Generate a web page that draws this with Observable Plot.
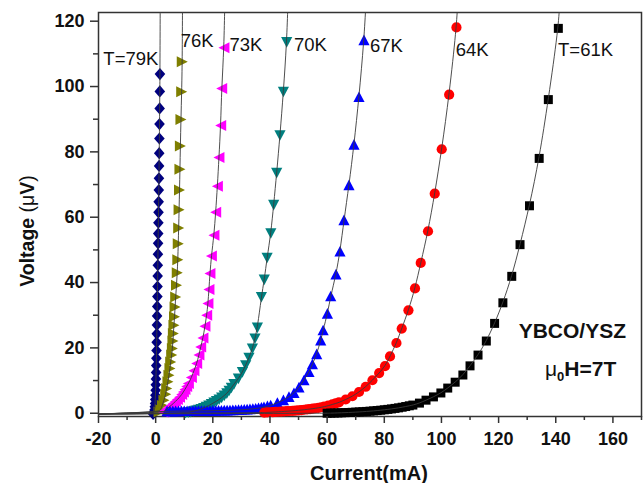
<!DOCTYPE html>
<html><head><meta charset="utf-8">
<script src="https://cdn.jsdelivr.net/npm/d3@7"></script>
<script src="https://cdn.jsdelivr.net/npm/@observablehq/plot@0.6"></script>
<style>body{margin:0;background:#fff}</style>
</head><body><div id="chart"></div>
<script>
// ---- data (Current mA, Voltage µV) ----
const xTicks = [-20,0,20,40,60,80,100,120,140,160];
const xMinorTicks = [-10,10,30,50,70,90,110,130,150,170];
const yTicks = [0,20,40,60,80,100,120];
const yMinorTicks = [10,30,50,70,90,110];

const t79 = [[-0.9,-0.2],[-0.6,0.3],[-0.4,1.0],[-0.3,2],[-0.2,3],[-0.15,4.2],[-0.1,5.5],[0,7],[0.05,8.7],[0.1,10.5],[0.15,12.5],[0.2,14.6],[0.25,16.8],[0.3,19.2],[0.35,21.7],[0.4,24.3],[0.45,27],[0.5,29.8],[0.55,32.7],[0.6,35.7],[0.65,38.8],[0.7,42],[0.75,45.3],[0.8,48.7],[0.85,52],[0.9,55],[0.95,58.3],[1.0,61.5],[1.05,64.7],[1.1,68.3],[1.15,71.9],[1.2,75.7],[1.25,79.6],[1.3,84.1],[1.35,88.5],[1.4,93.3],[1.45,98.5],[1.5,103.8]];
const t76 = [[1.2,0.4],[1.75,1.1],[2.35,2.4],[2.9,4],[3.5,5.8],[3.85,7.6],[4.3,9.6],[4.65,11.6],[5.0,13.7],[5.25,15.7],[5.6,17.8],[5.85,19.8],[6.05,22.1],[6.2,24.4],[6.4,26.9],[6.6,29.5],[6.8,32.5],[7.0,35.6],[7.3,39.2],[7.55,43],[7.75,47],[7.9,51.9],[8.05,56.7],[8.2,62.3],[8.35,68.3],[8.5,74.7],[8.65,81.8],[8.85,89.9],[9.1,98.4],[9.3,107.6]];
const t73 = [[2.6,0.4],[3.0,0.6],[3.5,0.9],[4.1,1.4],[4.65,1.9],[5.4,2.4],[6.2,3.0],[6.9,3.6],[7.6,4.2],[8.35,4.9],[9.1,5.7],[9.7,6.5],[10.25,7.3],[10.85,8.2],[11.45,9.1],[12.5,10.9],[13.4,13],[14.35,15.2],[15.15,17.8],[15.75,20.3],[16.55,23],[17.25,26.6],[17.85,30],[18.3,33.6],[18.65,37.9],[19.0,42.8],[19.5,48.1],[20.4,54.5],[21.0,61.5],[21.6,69.5],[22.15,78.3],[22.75,88.1],[23.1,99.4],[23.9,111.9]];
const t70 = [[10.5,0.1],[11.4,0.25],[12.3,0.4],[13.2,0.6],[14.1,0.8],[15,1.05],[15.9,1.3],[16.8,1.6],[17.7,1.95],[18.6,2.35],[19.5,2.8],[20.4,3.25],[21.3,3.7],[22.2,4.2],[23.1,4.8],[24,5.4],[24.9,6.1],[25.7,6.9],[26.5,7.8],[27.4,8.9],[28.95,10.6],[30.35,12.6],[31.5,14.7],[32.65,17],[33.85,19.8],[34.75,22.9],[35.6,26.2],[37.0,35.6],[38.0,40.9],[39.0,47.6],[40.3,55.1],[41.3,63.8],[42.35,73.6],[43.5,85.1],[44.7,98.4],[45.85,113.6]];
const t67 = [[4,0.6],[5,0.62],[6,0.63],[7,0.64],[8,0.65],[9,0.66],[10,0.67],[11,0.68],[12,0.69],[13,0.7],[14,0.71],[15,0.72],[16,0.73],[17,0.74],[18,0.75],[19,0.76],[20,0.78],[21,0.8],[22,0.82],[23,0.84],[24,0.86],[25,0.88],[26,0.91],[27,0.94],[28,0.98],[29,1.02],[30,1.07],[31,1.12],[32,1.18],[33,1.26],[34,1.35],[35,1.45],[36,1.57],[37,1.72],[37.9,1.9],[39.1,2.15],[40.25,2.4],[42.6,3.2],[44.7,4.0],[46.65,5.0],[48.4,6.2],[50.15,7.9],[51.9,10.1],[53.65,12.6],[54.85,15],[56.35,18.1],[57.75,22.3],[58.6,25.4],[60.1,30.5],[61.25,35.8],[63.1,42.5],[64.5,49.5],[65.9,59.1],[67.65,69.8],[69.4,82.2],[71.15,96.8],[72.9,114.2]];
const t64 = [[38,0.2],[39,0.25],[40,0.3],[41,0.35],[42,0.4],[43,0.45],[44,0.5],[45,0.56],[46,0.62],[47,0.68],[48,0.75],[49,0.82],[50,0.9],[51,0.98],[52,1.07],[53,1.17],[54,1.28],[55,1.4],[56,1.53],[57,1.67],[58,1.83],[59,2.0],[60.4,2.3],[61.85,2.7],[63,3.0],[64.15,3.3],[66.5,4.2],[68.85,5.2],[71.15,6.5],[73.5,8.1],[75.85,10.1],[78.2,12.3],[80.25,14.4],[82,17.4],[84.25,21.5],[86.1,25.9],[88.45,31.5],[90.75,38.2],[92.75,46],[95.3,55.7],[97.65,67.2],[100.1,80.8],[102.7,97.5],[105.25,118.1]];
const t61 = [[60,0.0],[61.25,0.03],[62.5,0.06],[63.75,0.1],[65,0.14],[66.25,0.18],[67.5,0.23],[68.75,0.28],[70,0.34],[71.25,0.4],[72.5,0.47],[73.75,0.55],[75,0.63],[76.25,0.72],[77.5,0.82],[78.75,0.93],[80,1.05],[81.25,1.18],[82.5,1.32],[83.75,1.48],[85,1.65],[86.25,1.84],[87.5,2.05],[88.75,2.28],[90,2.5],[92.3,3.1],[94.6,4.0],[97.2,5.0],[99.8,6.2],[102.2,7.7],[104.8,9.5],[107.5,11.7],[110,14.5],[112.8,17.8],[115.7,22.1],[118.6,27.5],[121.5,33.8],[124.6,41.9],[127.5,51.6],[130.8,63.5],[134.2,78],[137.4,96],[140.9,117.8]];

// fit-line ends read at the top edge of the frame
const fitTopI = [1.6, 9.4, 24.2, 46.3, 73.6, 105.7, 141.4];

const labelText = ["T=79K","76K","73K","70K","67K","64K","T=61K"];
const labelI = [-18.3, 8.75, 25.8, 48.4, 75.0, 105.0, 140.8];
const labelV = [108.4, 113.9, 112.6, 112.6, 112.3, 111.3, 111.1];

const colors = ["#00007f","#7f7f00","#ff00ff","#007f7f","#0000ff","#ff0000","#000000"];

// ---- custom symbols ----
function poly(pts){ return {draw(ctx, size){ const r = Math.sqrt(size/Math.PI); ctx.moveTo(pts[0][0]*r, pts[0][1]*r); for (let i=1;i<pts.length;i++) ctx.lineTo(pts[i][0]*r, pts[i][1]*r); ctx.closePath(); }}; }
const diamond = poly([[0,-1.15],[1,0],[0,1.15],[-1,0]]);
const triRight = poly([[-1,-1],[1,0],[-1,1]]);
const triLeft = poly([[1,-1],[-1,0],[1,1]]);
const triDown = poly([[-1,-0.9],[1,-0.9],[0,1]]);
const triUp = poly([[-1,0.9],[1,0.9],[0,-1]]);
const square = poly([[-1,-1],[1,-1],[1,1],[-1,1]]);
const circle = {draw(ctx,size){ const r=Math.sqrt(size/Math.PI); ctx.moveTo(r,0); ctx.arc(0,0,r,0,2*Math.PI); }};

const datasets = [t79,t76,t73,t70,t67,t64,t61];
const symbols = [diamond, triRight, triLeft, triDown, triUp, circle, square];
const radii = [5.3, 5.5, 5.5, 5.6, 5.6, 5.1, 4.5];

const marks = [Plot.frame({stroke:"#333", strokeWidth:1.5})];
datasets.forEach((d,i) => {
  marks.push(Plot.dot(d, {x: p=>p[0], y: p=>p[1], symbol: symbols[i], r: radii[i], fill: colors[i], stroke: "none"}));
});
datasets.forEach((d,i) => {
  const line = [[-20,-0.25], ...d, [fitTopI[i], 126]];
  marks.push(Plot.line(line, {x: p=>p[0], y: p=>p[1], curve: "basis", stroke: "#3a3a3a", strokeWidth: 0.9, clip: true}));
});
marks.push(Plot.text(labelText.map((t,i)=>({t, I: labelI[i], V: labelV[i]})), {x:"I", y:"V", text:"t", textAnchor:"start", fontSize:18.5, fontWeight:"normal", fill:"#111"}));
marks.push(Plot.text([{t:"YBCO/YSZ", I:145.8, V:25.2}], {x:"I", y:"V", text:"t", textAnchor:"middle", fontSize:21, fontWeight:"bold", fill:"#111"}));

marks.push(Plot.axisX(xTicks, {anchor:"bottom", tickSize:7, tickPadding:9, tickFormat: d=>String(d), fontSize:18, fontWeight:"bold", strokeWidth:1.5, stroke:"#333", fill:"#111", label:null}));
marks.push(Plot.axisX(xMinorTicks, {anchor:"bottom", tickSize:4, tickFormat: ()=>"", strokeWidth:1.5, stroke:"#333", label:null}));
marks.push(Plot.axisY(yTicks, {anchor:"left", tickSize:8, tickPadding:6, tickFormat: d=>String(d), fontSize:18, fontWeight:"bold", strokeWidth:1.5, stroke:"#333", fill:"#111", label:null}));
marks.push(Plot.axisY(yMinorTicks, {anchor:"left", tickSize:5, tickFormat: ()=>"", strokeWidth:1.5, stroke:"#333", label:null}));

const chart = Plot.plot({
  width: 643, height: 483,
  marginLeft: 98, marginRight: 2, marginTop: 12, marginBottom: 67,
  style: {fontFamily: "'Liberation Sans', Arial, sans-serif", background: "#fff", color: "#111"},
  x: {domain: [-20, 170], axis: null},
  y: {domain: [-1, 122.66], axis: null},
  marks
});
document.getElementById("chart").appendChild(chart);

// annotations with subscript
const svg = d3.select(chart);
const mu = svg.append("text").attr("x", 545).attr("y", 376).attr("text-anchor","start")
  .attr("font-family","'Liberation Sans', Arial, sans-serif").attr("font-size",21).attr("fill","#111");
mu.append("tspan").attr("font-weight","normal").text("μ");
mu.append("tspan").attr("font-size",13).attr("font-weight","bold").attr("dy",5).text("0");
mu.append("tspan").attr("font-weight","bold").attr("dy",-5).text("H=7T");

svg.append("text").attr("x", 369).attr("y", 480).attr("text-anchor","middle")
  .attr("font-family","'Liberation Sans', Arial, sans-serif").attr("font-size",20).attr("font-weight","bold").attr("fill","#111")
  .text("Current(mA)");
const yl = svg.append("text").attr("transform","translate(34,231) rotate(-90)").attr("text-anchor","middle")
  .attr("font-family","'Liberation Sans', Arial, sans-serif").attr("font-size",19.5).attr("fill","#111");
yl.append("tspan").attr("font-weight","bold").text("Voltage ");
yl.append("tspan").attr("font-weight","normal").text("(μ");
yl.append("tspan").attr("font-weight","bold").text("V");
yl.append("tspan").attr("font-weight","normal").text(")");
</script>
</body></html>
